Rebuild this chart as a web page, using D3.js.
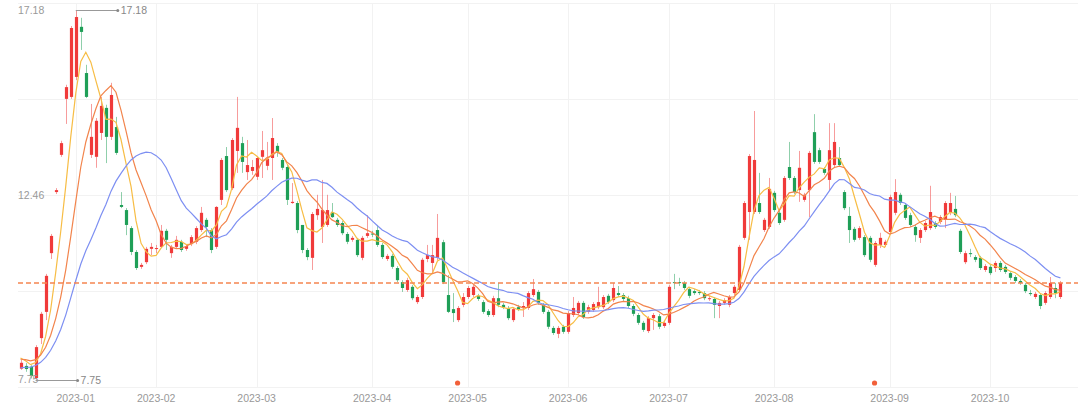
<!DOCTYPE html>
<html>
<head>
<meta charset="utf-8">
<script src="https://cdn.jsdelivr.net/npm/d3@7"></script>
<style>
  html, body { margin: 0; padding: 0; background: #fff; }
  svg text { font-family: "Liberation Sans", Arial, sans-serif; }
</style>
</head>
<body>
<svg id="chart" width="1080" height="408"></svg>
<script>
// daily OHLC, first bar is 2022-12-16
var openArr = [
  8.03, 8.10, 8.08, 7.79, 8.81, 9.48, 10.98, 12.54, 13.49, 14.92,
  14.97, 15.48, 16.76, 15.58, 13.49, 13.44, 14.05, 14.69, 13.95, 14.20,
  12.21, 12.08, 11.62, 11.01, 10.63, 10.75, 11.09, 11.10, 11.14, 11.55,
  10.98, 11.14, 11.27, 11.09, 11.21, 11.27, 11.57, 11.83, 11.57, 11.14,
  12.34, 13.46, 12.64, 13.59, 13.79, 13.05, 13.08, 12.93, 13.44, 13.21,
  13.41, 13.72, 13.36, 13.18, 12.26, 12.26, 11.70, 11.06, 10.86, 11.95,
  11.65, 11.70, 12.03, 11.83, 11.75, 11.47, 11.32, 11.32, 10.86, 11.42,
  11.48, 11.57, 11.19, 10.83, 10.91, 10.60, 10.24, 10.04, 10.12, 9.73,
  9.86, 10.83, 10.73, 10.86, 11.26, 9.91, 9.55, 9.27, 9.66, 9.86,
  9.91, 9.89, 9.73, 9.50, 9.40, 9.83, 9.66, 9.58, 9.27, 9.60,
  9.58, 9.58, 9.91, 9.99, 9.66, 9.48, 9.07, 8.92, 9.10, 8.97,
  9.40, 9.45, 9.71, 9.48, 9.53, 9.60, 9.60, 9.89, 9.78, 9.96,
  9.91, 9.83, 9.63, 9.40, 9.20, 8.99, 9.32, 9.37, 9.12, 9.20,
  10.24, 10.24, 10.22, 10.06, 10.01, 9.99, 9.96, 9.81, 9.81, 9.63,
  9.71, 9.66, 9.96, 10.04, 11.37, 12.03, 12.03, 12.26, 11.57, 11.65,
  12.52, 12.01, 11.83, 13.18, 12.90, 12.59, 12.34, 12.59, 14.07, 13.61,
  13.13, 12.85, 13.23, 13.41, 12.54, 11.93, 11.60, 11.37, 11.39, 11.37,
  10.68, 11.19, 11.19, 11.52, 12.01, 12.47, 12.21, 11.95, 11.65, 11.37,
  11.57, 11.62, 11.75, 11.78, 11.83, 12.01, 12.11, 11.55, 10.75, 10.98,
  10.88, 10.86, 10.55, 10.63, 10.60, 10.73, 10.63, 10.47, 10.37, 10.27,
  10.17, 9.96, 9.86, 9.91, 9.71, 9.86, 10.09, 9.86
];
var closeArr = [
  8.18, 8.02, 7.84, 8.58, 9.43, 10.40, 11.42, 12.59, 13.79, 15.22,
  16.73, 17.01, 16.63, 14.97, 13.95, 14.36, 14.74, 13.95, 15.02, 13.54,
  12.16, 11.70, 11.01, 10.60, 10.68, 11.09, 11.14, 11.11, 11.55, 11.32,
  11.14, 11.32, 11.06, 11.16, 11.39, 11.62, 12.01, 11.65, 11.06, 12.16,
  13.36, 12.59, 13.87, 14.18, 13.31, 13.23, 13.18, 13.41, 13.61, 13.39,
  13.92, 13.56, 13.16, 12.34, 12.29, 11.57, 11.06, 10.88, 11.98, 12.11,
  12.08, 12.08, 11.90, 11.70, 11.49, 11.27, 11.37, 10.93, 11.37, 11.49,
  11.46, 11.19, 10.88, 10.91, 10.63, 10.29, 10.09, 10.29, 9.83, 9.86,
  10.81, 10.93, 10.93, 11.37, 10.24, 9.48, 9.45, 9.58, 9.86, 10.09,
  10.12, 9.81, 9.48, 9.40, 9.83, 9.66, 9.60, 9.32, 9.55, 9.55,
  9.63, 9.96, 10.06, 9.71, 9.48, 9.10, 8.94, 9.07, 8.97, 9.45,
  9.58, 9.71, 9.35, 9.60, 9.68, 9.73, 9.86, 9.73, 10.09, 9.91,
  9.81, 9.63, 9.43, 9.20, 9.02, 9.32, 9.40, 9.10, 9.20, 10.12,
  10.22, 10.22, 10.09, 9.89, 9.96, 9.96, 9.83, 9.83, 9.66, 9.71,
  9.78, 9.86, 10.12, 11.14, 12.26, 13.46, 13.36, 12.03, 11.83, 12.62,
  12.08, 11.75, 12.90, 12.90, 12.54, 13.16, 12.47, 13.54, 13.31, 13.31,
  13.03, 13.61, 13.82, 13.23, 12.13, 11.57, 11.32, 11.62, 10.93, 10.81,
  11.24, 11.37, 11.27, 12.41, 12.54, 12.26, 11.88, 11.70, 11.44, 11.57,
  11.75, 12.03, 11.65, 11.90, 12.26, 12.26, 11.95, 11.01, 10.98, 10.96,
  10.81, 10.60, 10.65, 10.47, 10.73, 10.55, 10.50, 10.35, 10.27, 10.22,
  10.01, 9.94, 9.94, 9.63, 9.96, 10.22, 9.96, 10.22
];
var highArr = [
  8.25, 8.17, 8.12, 8.63, 9.48, 10.45, 11.47, 12.64, 13.85, 15.28,
  16.78, 17.18, 16.99, 15.79, 14.79, 14.43, 14.97, 14.77, 15.33, 14.46,
  12.54, 12.13, 11.67, 11.06, 10.73, 11.14, 11.24, 11.19, 11.70, 11.60,
  11.19, 11.42, 11.32, 11.21, 11.44, 11.67, 12.16, 11.88, 11.62, 12.18,
  13.41, 13.69, 13.92, 14.97, 13.95, 13.87, 13.36, 13.44, 14.10, 13.82,
  14.43, 13.79, 13.41, 13.23, 12.77, 12.31, 11.70, 11.11, 12.03, 12.47,
  12.85, 12.47, 12.26, 11.88, 11.80, 11.52, 11.42, 11.37, 11.42, 11.95,
  11.55, 11.70, 11.24, 10.96, 10.96, 10.65, 10.29, 10.35, 10.17, 9.91,
  10.86, 11.19, 11.19, 11.98, 11.32, 10.42, 9.96, 9.63, 9.96, 10.14,
  10.17, 9.94, 9.78, 9.55, 9.89, 10.22, 9.71, 9.63, 9.60, 9.66,
  9.73, 10.01, 10.32, 10.04, 9.71, 9.53, 9.12, 9.12, 9.15, 9.50,
  9.86, 9.76, 9.76, 9.66, 9.73, 10.12, 9.91, 9.94, 10.22, 10.14,
  9.96, 9.89, 9.68, 9.45, 9.25, 9.37, 9.45, 9.43, 9.25, 10.17,
  10.45, 10.35, 10.27, 10.12, 10.06, 10.04, 10.01, 9.89, 9.86, 9.76,
  9.83, 9.91, 10.17, 11.19, 12.31, 13.51, 14.61, 13.03, 11.88, 12.90,
  12.57, 12.06, 12.95, 13.82, 12.95, 13.59, 12.52, 13.59, 14.53, 13.67,
  13.18, 14.30, 14.30, 13.69, 12.59, 12.16, 11.65, 11.67, 11.44, 11.42,
  11.29, 11.50, 11.32, 12.47, 12.87, 12.52, 12.26, 12.01, 11.70, 11.62,
  11.80, 12.70, 11.80, 11.95, 12.31, 12.52, 12.44, 11.60, 11.04, 11.09,
  10.93, 10.91, 10.70, 10.68, 10.78, 10.78, 10.68, 10.52, 10.42, 10.32,
  10.22, 10.04, 9.99, 9.96, 10.01, 10.37, 10.22, 10.27
];
var lowArr = [
  8.00, 7.95, 7.78, 7.75, 8.66, 9.27, 10.83, 12.49, 13.44, 14.28,
  14.92, 15.40, 16.17, 14.94, 13.41, 13.16, 13.87, 13.28, 13.87, 13.49,
  12.13, 11.44, 10.93, 10.55, 10.58, 10.70, 10.93, 10.98, 11.11, 11.06,
  10.86, 11.09, 11.01, 11.04, 11.16, 11.21, 11.52, 11.39, 10.98, 11.09,
  12.21, 12.54, 12.59, 13.03, 13.03, 12.85, 12.98, 12.85, 12.90, 13.10,
  12.85, 13.44, 13.10, 12.21, 12.24, 11.49, 10.98, 10.80, 10.55, 11.83,
  11.24, 11.65, 11.88, 11.65, 11.44, 11.21, 11.27, 10.88, 10.80, 11.37,
  11.39, 11.14, 10.83, 10.78, 10.58, 10.24, 9.99, 9.99, 9.78, 9.68,
  9.81, 10.75, 10.50, 10.80, 10.19, 9.45, 9.22, 9.22, 9.60, 9.81,
  9.86, 9.76, 9.43, 9.35, 9.35, 9.60, 9.55, 9.27, 9.22, 9.50,
  9.35, 9.53, 9.86, 9.66, 9.43, 9.04, 8.89, 8.81, 8.92, 8.92,
  9.35, 9.40, 9.30, 9.43, 9.48, 9.55, 9.55, 9.68, 9.73, 9.86,
  9.76, 9.58, 9.37, 9.15, 8.97, 8.94, 9.02, 9.04, 9.07, 9.15,
  10.06, 10.14, 10.04, 9.83, 9.91, 9.91, 9.78, 9.76, 9.32, 9.32,
  9.66, 9.60, 9.91, 9.99, 11.32, 11.32, 11.98, 11.98, 11.52, 11.60,
  12.03, 11.70, 11.78, 12.85, 12.49, 12.29, 12.29, 11.90, 13.26, 13.26,
  12.98, 12.59, 13.18, 13.18, 12.08, 11.24, 11.27, 11.32, 10.88, 10.75,
  10.63, 11.11, 11.14, 11.47, 11.95, 12.21, 11.83, 11.65, 11.27, 11.24,
  11.52, 11.57, 11.60, 11.72, 11.62, 11.95, 11.90, 10.96, 10.70, 10.88,
  10.75, 10.55, 10.50, 10.42, 10.50, 10.50, 10.45, 10.29, 10.22, 10.17,
  9.96, 9.89, 9.81, 9.55, 9.66, 9.81, 9.83, 9.81
];
// closes before the first visible bar, only used to seed the moving averages
var priorCloses = [7.70, 7.75, 7.80, 7.78, 7.85, 7.82, 7.88, 7.90, 7.86, 7.96,
                   8.10, 8.18, 8.25, 8.30, 8.37, 8.36, 8.34, 8.30, 8.32];
var maPeriods = [5, 10, 20];
var maColors = ["#f7bd45", "#f2844c", "#7d8ff2"];
// market closed on these weekdays
var holidays = ["2023-01-02", "2023-01-23", "2023-01-24", "2023-01-25", "2023-01-26", "2023-01-27",
                "2023-04-05", "2023-05-01", "2023-05-02", "2023-05-03", "2023-06-22", "2023-06-23",
                "2023-09-29", "2023-10-02", "2023-10-03", "2023-10-04", "2023-10-05", "2023-10-06"];
var eventIdx = [87, 170]; // little dots under the axis

var svg = d3.select("#chart"),
    width = +svg.attr("width"),
    height = +svg.attr("height");

// plot box (don't call these top/left: window.top is taken)
var gLeft = 18, gRight = 1078, gTop = 3, gBottom = 387;
var n = closeArr.length;
var slots = n + 3;

// trading dates
var fmt = d3.timeFormat("%Y-%m-%d");
var dates = [];
var day = new Date(2022, 11, 16);
while (dates.length < n) {
    var wd = day.getDay();
    if (wd != 0 && wd != 6 && holidays.indexOf(fmt(day)) < 0) dates.push(new Date(day));
    day = d3.timeDay.offset(day, 1);
}

var ticks = [];
for (var i = 1; i < n; i++) {
    if (dates[i].getMonth() != dates[i - 1].getMonth()) ticks.push({ i: i, label: d3.timeFormat("%Y-%m")(dates[i]) });
}

var minV = d3.min(lowArr), maxV = d3.max(highArr);
var iMin = lowArr.indexOf(minV), iMax = highArr.indexOf(maxV);
var pad = (maxV - minV) * 0.02;

var x = d3.scaleBand().domain(d3.range(slots)).range([gLeft, gRight]);
var y = d3.scaleLinear().domain([minV - pad, maxV + pad]).range([gBottom, gTop]);
var cx = function (i) { return x(i) + x.bandwidth() / 2; };

// grid
var g = svg.append("g");
g.selectAll(".hgrid")
    .data(d3.range(5))
    .enter()
    .append("line")
    .attr("x1", gLeft).attr("x2", gRight)
    .attr("y1", function (d) { return Math.round(gTop + (gBottom - gTop) * d / 4) + 0.5; })
    .attr("y2", function (d) { return Math.round(gTop + (gBottom - gTop) * d / 4) + 0.5; })
    .attr("stroke", "#f2f2f2");
g.selectAll(".vgrid")
    .data(ticks)
    .enter()
    .append("line")
    .attr("x1", function (d) { return Math.round(cx(d.i)) + 0.5; })
    .attr("x2", function (d) { return Math.round(cx(d.i)) + 0.5; })
    .attr("y1", gTop).attr("y2", gBottom)
    .attr("stroke", "#f2f2f2");

// x labels
svg.selectAll(".xlab")
    .data(ticks)
    .enter()
    .append("text")
    .attr("x", function (d) { return cx(d.i); })
    .attr("y", 402)
    .attr("text-anchor", "middle")
    .style("font-size", "10.5px")
    .style("fill", "#999")
    .text(function (d) { return d.label; });

// candles
var up = "#f03a3a", down = "#1f9f57";
var candle = svg.append("g")
    .selectAll("g")
    .data(d3.range(n))
    .enter()
    .append("g");
candle.append("line")
    .attr("x1", function (i) { return Math.round(cx(i)) + 0.5; })
    .attr("x2", function (i) { return Math.round(cx(i)) + 0.5; })
    .attr("y1", function (i) { return y(highArr[i]); })
    .attr("y2", function (i) { return y(lowArr[i]); })
    .attr("stroke", function (i) { return closeArr[i] >= openArr[i] ? up : down; })
    .attr("stroke-opacity", 0.5)
    .attr("stroke-width", 1);
candle.append("rect")
    .attr("x", function (i) { return Math.round(cx(i)) + 0.5 - 1.6; })
    .attr("width", 3.2)
    .attr("y", function (i) { return y(Math.max(openArr[i], closeArr[i])); })
    .attr("height", function (i) { return Math.max(1, Math.abs(y(openArr[i]) - y(closeArr[i]))); })
    .attr("fill", function (i) { return closeArr[i] >= openArr[i] ? up : down; });

// moving averages
var allCloses = priorCloses.concat(closeArr);
maPeriods.forEach(function (p, k) {
    var ma = closeArr.map(function (d, i) {
        var end = i + priorCloses.length;
        return d3.mean(allCloses.slice(end - p + 1, end + 1));
    });
    svg.append("path")
        .datum(ma)
        .attr("fill", "none")
        .attr("stroke", maColors[k])
        .attr("stroke-width", 1.2)
        .attr("d", d3.line()
            .x(function (d, i) { return cx(i); })
            .y(function (d) { return y(d); }));
});

// last price line
var last = closeArr[n - 1];
svg.append("path")
    .attr("d", "M" + gLeft + "," + y(last) + "H" + gRight)
    .attr("fill", "none")
    .attr("stroke", "#f58550")
    .attr("stroke-width", 1.5)
    .attr("stroke-dasharray", "5,3");

// y labels: min, mid, max
var yVals = [minV, (minV + maxV) / 2, maxV];
svg.selectAll(".ylab")
    .data(yVals)
    .enter()
    .append("text")
    .attr("x", gLeft)
    .attr("y", function (d) { return y(d); })
    .attr("dy", "0.35em")
    .style("font-size", "10.5px")
    .style("fill", "#999")
    .text(function (d) { return d.toFixed(2); });

// max / min markers
[[iMax, maxV], [iMin, minV]].forEach(function (m) {
    var x0 = cx(m[0]), yy = Math.round(y(m[1])) + 0.5;
    svg.append("line")
        .attr("x1", x0).attr("x2", x0 + 42)
        .attr("y1", yy).attr("y2", yy)
        .attr("stroke", "#999");
    svg.append("circle")
        .attr("cx", x0 + 42).attr("cy", yy).attr("r", 1.5)
        .attr("fill", "#888");
    svg.append("text")
        .attr("x", x0 + 45).attr("y", yy)
        .attr("dy", "0.35em")
        .style("font-size", "10.5px")
        .style("fill", "#888")
        .text(m[1].toFixed(2));
});

// event dots
svg.selectAll(".ev")
    .data(eventIdx)
    .enter()
    .append("circle")
    .attr("cx", function (i) { return cx(i); })
    .attr("cy", 383)
    .attr("r", 2.6)
    .attr("fill", "#f2603a");
</script>
</body>
</html>
